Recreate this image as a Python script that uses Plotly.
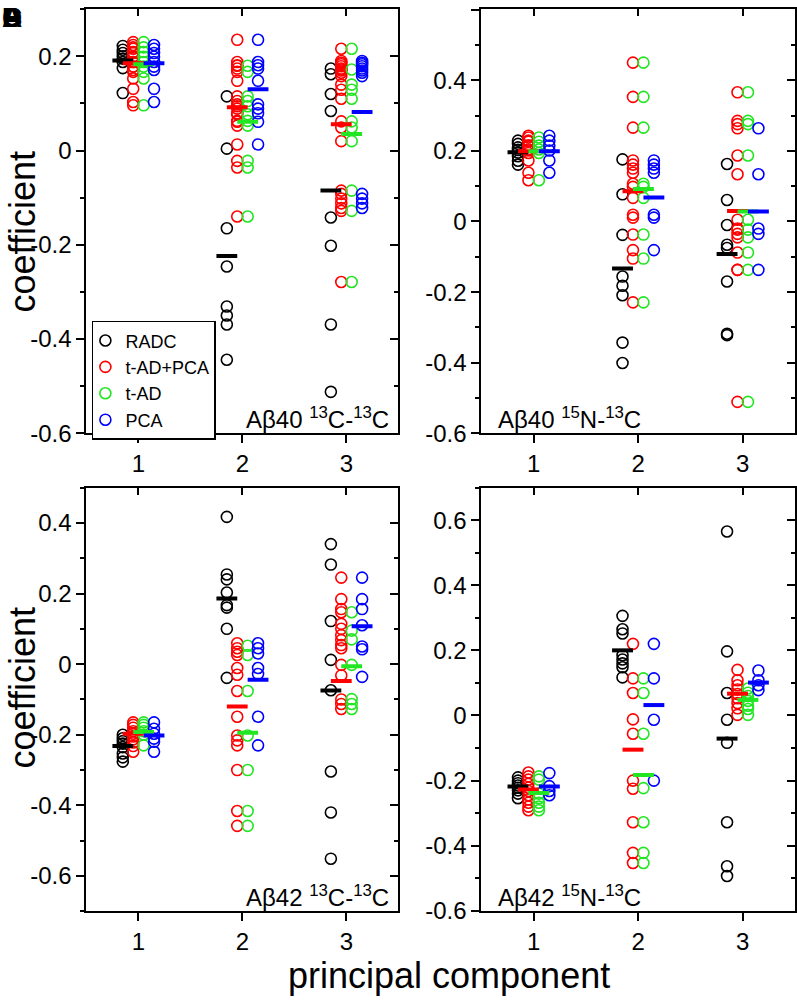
import plotly.graph_objects as go

# principal components on the x axis and the four data sets per panel
components = [1, 2, 3]
groups = ["RADC", "t-AD+PCA", "t-AD", "PCA"]

# ---- A: Abeta40 13C-13C ------------------------------------------------------
a40cc_radc = [
    [0.222, 0.214, 0.207, 0.200, 0.195, 0.188, 0.175, 0.122],
    [0.115, 0.004, -0.165, -0.246, -0.331, -0.350, -0.369, -0.444],
    [0.174, 0.162, 0.120, 0.084, -0.142, -0.202, -0.369, -0.512],
]
a40cc_tadpca = [
    [0.230, 0.224, 0.219, 0.216, 0.209, 0.207, 0.199, 0.199, 0.188, 0.188,
     0.178, 0.178, 0.171, 0.167, 0.153, 0.131, 0.103, 0.096],
    [0.235, 0.188, 0.181, 0.180, 0.174, 0.167, 0.148, 0.115, 0.105, 0.098, 0.094,
     0.089, 0.079, 0.077, 0.063, 0.061, 0.053, 0.013, -0.022, -0.036, -0.140],
    [0.216, 0.190, 0.186, 0.183, 0.179, 0.174, 0.172, 0.170, 0.165, 0.158, 0.140, 0.129,
     0.110, 0.062, 0.049, 0.020, -0.085, -0.092, -0.102, -0.112, -0.122, -0.128, -0.279],
]
a40cc_tad = [
    [0.230, 0.219, 0.209, 0.199, 0.188, 0.178, 0.167, 0.153, 0.096],
    [0.180, 0.167, 0.115, 0.105, 0.094, 0.077, 0.063, 0.053, -0.022, -0.036, -0.140],
    [0.216, 0.172, 0.140, 0.129, 0.110, 0.062, 0.049, 0.020, -0.085, -0.128, -0.279],
]
a40cc_pca = [
    [0.224, 0.216, 0.207, 0.199, 0.188, 0.178, 0.171, 0.131, 0.103],
    [0.235, 0.188, 0.181, 0.174, 0.148, 0.098, 0.089, 0.079, 0.061, 0.013],
    [0.190, 0.186, 0.183, 0.179, 0.174, 0.170, 0.165, 0.158, -0.092, -0.102, -0.112, -0.122],
]
a40cc_means = [[0.191, -0.224, -0.085], [0.185, 0.092, 0.056], [0.183, 0.061, 0.035], [0.185, 0.130, 0.082]]
a40cc_yticks = [-0.6, -0.4, -0.2, 0, 0.2]

# ---- B: Abeta40 15N-13C ------------------------------------------------------
a40nc_radc = [
    [0.229, 0.220, 0.210, 0.203, 0.195, 0.185, 0.172, 0.161],
    [0.176, 0.077, -0.038, -0.156, -0.182, -0.209, -0.343, -0.401],
    [0.163, 0.061, -0.010, -0.066, -0.075, -0.170, -0.318, -0.322],
]
a40nc_tadpca = [
    [0.243, 0.238, 0.229, 0.226, 0.215, 0.215, 0.204, 0.201, 0.194, 0.173, 0.138, 0.117],
    [0.450, 0.353, 0.266, 0.173, 0.161, 0.150, 0.138, 0.107, 0.098, 0.067, 0.019, 0.011,
     -0.037, -0.081, -0.105, -0.229],
    [0.366, 0.285, 0.276, 0.264, 0.187, 0.134, 0.005, -0.020, -0.023, -0.035, -0.045,
     -0.088, -0.137, -0.137, -0.511],
]
a40nc_tad = [
    [0.238, 0.226, 0.215, 0.204, 0.194, 0.117],
    [0.450, 0.353, 0.266, 0.107, 0.098, 0.067, -0.037, -0.105, -0.229],
    [0.366, 0.285, 0.276, 0.187, 0.005, -0.023, -0.045, -0.088, -0.137, -0.511],
]
a40nc_pca = [
    [0.243, 0.229, 0.215, 0.201, 0.173, 0.138],
    [0.173, 0.161, 0.150, 0.138, 0.019, 0.011, -0.081],
    [0.264, 0.134, -0.020, -0.035, -0.137],
]
a40nc_means = [[0.196, -0.133, -0.092], [0.199, 0.086, 0.030], [0.199, 0.092, 0.028], [0.199, 0.068, 0.028]]
a40nc_yticks = [-0.6, -0.4, -0.2, 0, 0.2, 0.4, 0.6]

# ---- C: Abeta42 13C-13C ------------------------------------------------------
a42cc_radc = [
    [-0.200, -0.210, -0.218, -0.225, -0.235, -0.253, -0.264, -0.276],
    [0.417, 0.254, 0.240, 0.203, 0.167, 0.160, 0.100, -0.039],
    [0.340, 0.282, 0.122, 0.012, -0.074, -0.304, -0.420, -0.551],
]
a42cc_tadpca = [
    [-0.165, -0.172, -0.180, -0.190, -0.197, -0.205, -0.213, -0.222, -0.232, -0.248],
    [0.059, 0.045, 0.035, 0.026, -0.011, -0.030, -0.076, -0.149, -0.202, -0.216, -0.230,
     -0.300, -0.416, -0.458],
    [0.245, 0.184, 0.156, 0.147, 0.114, 0.100, 0.082, 0.068, 0.054, 0.045, -0.002,
     -0.032, -0.100, -0.113, -0.127],
]
a42cc_tad = [
    [-0.165, -0.172, -0.180, -0.190, -0.200, -0.230],
    [0.052, 0.026, -0.076, -0.202, -0.300, -0.416, -0.458],
    [0.147, 0.095, 0.070, -0.002, -0.099, -0.113, -0.127],
]
a42cc_pca = [
    [-0.165, -0.183, -0.197, -0.211, -0.220, -0.248],
    [0.059, 0.045, 0.030, -0.011, -0.028, -0.149, -0.230],
    [0.245, 0.184, 0.156, 0.110, 0.050, 0.042, -0.036],
]
a42cc_means = [[-0.232, 0.186, -0.075], [-0.197, -0.120, -0.048], [-0.192, -0.194, -0.006], [-0.202, -0.044, 0.107]]
a42cc_yticks = [-0.6, -0.4, -0.2, 0, 0.2, 0.4]

# ---- D: Abeta42 15N-13C ------------------------------------------------------
a42nc_radc = [
    [-0.190, -0.200, -0.208, -0.215, -0.222, -0.230, -0.240, -0.254],
    [0.306, 0.265, 0.252, 0.185, 0.172, 0.160, 0.148, 0.117],
    [0.565, 0.197, 0.069, -0.013, -0.084, -0.328, -0.463, -0.493],
]
a42nc_tadpca = [
    [-0.175, -0.187, -0.197, -0.210, -0.222, -0.232, -0.245, -0.258, -0.268, -0.280, -0.291],
    [0.220, 0.114, 0.069, -0.012, -0.056, -0.200, -0.225, -0.328, -0.422, -0.453],
    [0.140, 0.108, 0.093, 0.080, 0.066, 0.053, 0.038, 0.022, 0.002],
]
a42nc_tad = [
    [-0.187, -0.197, -0.240, -0.254, -0.268, -0.280, -0.291],
    [0.114, 0.069, -0.056, -0.223, -0.328, -0.422, -0.453],
    [0.083, 0.070, 0.060, 0.045, 0.030, 0.020, 0.002],
]
a42nc_pca = [
    [-0.177, -0.217, -0.232, -0.245],
    [0.220, 0.114, -0.013, -0.200],
    [0.138, 0.108, 0.093, 0.078],
]
a42nc_means = [[-0.218, 0.200, -0.071], [-0.227, -0.105, 0.067], [-0.238, -0.183, 0.048], [-0.218, 0.032, 0.101]]
a42nc_yticks = [-0.6, -0.4, -0.2, 0, 0.2, 0.4, 0.6]

# ---- styling -------------------------------------------------------------------
W, H = 797, 1001
FONT = "Liberation Sans, Arial, sans-serif"
COLORS = ["#000000", "#ff0000", "#22e622", "#0000ff"]
OFFSETS = [-0.15, -0.05, 0.05, 0.15]
HALF = 0.1  # half width of the mean bars


def px(x):
    return x / W


def py(y):
    return 1 - y / H


def fmt(v):
    return "0" if v == 0 else "%g" % v


panels = [
    dict(label="A&#946;40 <sup>13</sup>C-<sup>13</sup>C", series=[a40cc_radc, a40cc_tadpca, a40cc_tad, a40cc_pca],
         means=a40cc_means, yticks=a40cc_yticks, yrange=[-0.6, 0.3],
         xdom=[px(86.5), px(399)], ydom=[py(439), py(9.3)], lab_x=0.975),
    dict(label="A&#946;40 <sup>15</sup>N-<sup>13</sup>C", series=[a40nc_radc, a40nc_tadpca, a40nc_tad, a40nc_pca],
         means=a40nc_means, yticks=a40nc_yticks, yrange=[-0.6, 0.6015],
         xdom=[px(482), px(796)], ydom=[py(439), py(9.3)], lab_x=0.045),
    dict(label="A&#946;42 <sup>13</sup>C-<sup>13</sup>C", series=[a42cc_radc, a42cc_tadpca, a42cc_tad, a42cc_pca],
         means=a42cc_means, yticks=a42cc_yticks, yrange=[-0.7, 0.5],
         xdom=[px(86.5), px(399)], ydom=[py(923.3), py(494)], lab_x=0.975),
    dict(label="A&#946;42 <sup>15</sup>N-<sup>13</sup>C", series=[a42nc_radc, a42nc_tadpca, a42nc_tad, a42nc_pca],
         means=a42nc_means, yticks=a42nc_yticks, yrange=[-0.6015, 0.7],
         xdom=[px(482), px(796)], ydom=[py(923.3), py(494)], lab_x=0.045),
]

fig = go.Figure()
layout = {}
annotations = []
tickfont = dict(family=FONT, size=24, color="black")

for k, p in enumerate(panels):
    sid = "" if k == 0 else str(k + 1)
    oid = str(k + 5)
    xa, ya = "x" + sid, "y" + sid

    # circles, one trace per data set
    for g, (name, vals) in enumerate(zip(groups, p["series"])):
        xs, ys = [], []
        for pc, col in zip(components, vals):
            xs += [pc + OFFSETS[g]] * len(col)
            ys += col
        fig.add_trace(go.Scatter(
            x=xs, y=ys, mode="markers", name=name, legendgroup=name, showlegend=(k == 0),
            marker=dict(symbol="circle-open", size=11, color=COLORS[g], line=dict(width=1.6)),
            xaxis=xa, yaxis=ya,
        ))
    # mean bars
    for g, name in enumerate(groups):
        mx, my = [], []
        for pc, m in zip(components, p["means"][g]):
            c = pc + OFFSETS[g]
            mx += [c - HALF, c + HALF, None]
            my += [m, m, None]
        fig.add_trace(go.Scatter(
            x=mx, y=my, mode="lines", line=dict(color=COLORS[g], width=4),
            showlegend=False, legendgroup=name, hoverinfo="skip", xaxis=xa, yaxis=ya,
        ))
    # dummy trace so the mirrored tick axes (top/right) are drawn
    fig.add_trace(go.Scatter(x=[None], y=[None], xaxis="x" + oid, yaxis="y" + oid,
                             showlegend=False, hoverinfo="skip"))

    common = dict(showgrid=False, zeroline=False, tickcolor="black", tickwidth=1.5)
    layout["xaxis" + sid] = dict(
        common, domain=p["xdom"], anchor=ya, range=[0.5, 3.5], tickvals=components,
        ticktext=[str(c) for c in components], ticks="outside", ticklen=8,
        showline=True, linecolor="black", linewidth=2, mirror=True, tickfont=tickfont,
    )
    layout["yaxis" + sid] = dict(
        common, domain=p["ydom"], anchor=xa, range=p["yrange"], tickvals=p["yticks"],
        ticktext=[fmt(v) for v in p["yticks"]], ticks="outside", ticklen=8,
        showline=True, linecolor="black", linewidth=2, mirror=True, tickfont=tickfont,
        minor=dict(dtick=0.1, tick0=0, ticks="outside", ticklen=4, tickwidth=1.5, tickcolor="black"),
    )
    layout["xaxis" + oid] = dict(
        common, overlaying=xa, side="top", anchor=ya, range=[0.5, 3.5], tickvals=components,
        ticks="inside", ticklen=7, showticklabels=False, showline=False,
    )
    layout["yaxis" + oid] = dict(
        common, overlaying=ya, side="right", anchor=xa, range=p["yrange"], tickvals=p["yticks"],
        ticks="inside", ticklen=8, showticklabels=False, showline=False,
        minor=dict(dtick=0.1, tick0=0, ticks="inside", ticklen=4, tickwidth=1.5, tickcolor="black"),
    )

    right = p["lab_x"] > 0.5
    annotations.append(dict(
        text=p["label"], xref=xa + " domain", yref=ya + " domain", x=p["lab_x"], y=-0.004,
        xanchor="right" if right else "left", yanchor="bottom", showarrow=False,
        font=dict(family=FONT, size=24, color="black"),
    ))

# axis titles
for yc in (235, 697):
    annotations.append(dict(text="coefficient", xref="paper", yref="paper", x=0, y=py(yc),
                            textangle=-90, showarrow=False, xanchor="left", yanchor="middle",
                            font=dict(family=FONT, size=36, color="black")))
annotations.append(dict(text="principal component", xref="paper", yref="paper", x=px(450), y=py(988),
                        showarrow=False, xanchor="center", yanchor="middle",
                        font=dict(family=FONT, size=36, color="black")))
# panel letters stacked in the corner
for letter in "ABCD":
    annotations.append(dict(text="<b>%s</b>" % letter, xref="paper", yref="paper", x=0, y=1,
                            showarrow=False, xanchor="left", yanchor="top",
                            font=dict(family=FONT, size=28, color="black")))

fig.update_layout(
    layout,
    width=W, height=H,
    margin=dict(l=0, r=0, t=0, b=0),
    paper_bgcolor="white", plot_bgcolor="white",
    annotations=annotations,
    showlegend=True,
    legend=dict(x=px(92), y=py(325), xanchor="left", yanchor="top", bgcolor="white",
                bordercolor="black", borderwidth=1.5, tracegroupgap=0, indentation=-8,
                font=dict(family=FONT, size=18, color="black")),
)

fig.write_html("out.html", config={"displayModeBar": False},
               post_script="document.body.style.margin='0px';")
